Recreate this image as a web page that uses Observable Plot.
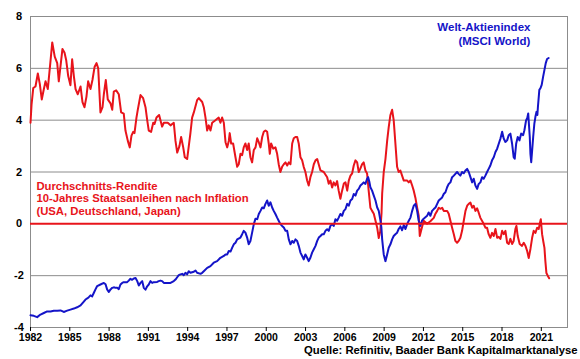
<!DOCTYPE html>
<html>
<head>
<meta charset="utf-8">
<script src="https://cdn.jsdelivr.net/npm/d3@7"></script>
<script src="https://cdn.jsdelivr.net/npm/@observablehq/plot@0.6"></script>
<style>
  html, body { margin: 0; padding: 0; background: #fff; }
  #chart { width: 580px; height: 359px; }
</style>
</head>
<body>
<div id="chart"></div>
<script>
// ---- Data ----
const xTicks = [1982, 1985, 1988, 1991, 1994, 1997, 2000, 2003, 2006, 2009, 2012, 2015, 2018, 2021];
const yTicks = [-4, -2, 0, 2, 4, 6, 8];
const gridValues = [-4, -2, 2, 4, 6, 8];

const redYears = [1982.00,1982.08,1982.21,1982.38,1982.56,1982.71,1982.86,1983.02,1983.15,1983.32,1983.53,1983.66,1983.85,1984.04,1984.16,1984.44,1984.60,1984.73,1984.88,1985.05,1985.18,1985.31,1985.44,1985.61,1985.82,1985.97,1986.12,1986.27,1986.40,1986.58,1986.73,1986.89,1987.04,1987.17,1987.34,1987.50,1987.60,1987.75,1987.90,1988.11,1988.24,1988.36,1988.54,1988.74,1988.92,1989.12,1989.25,1989.43,1989.58,1989.71,1989.84,1989.94,1990.09,1990.19,1990.40,1990.60,1990.78,1990.91,1991.03,1991.21,1991.37,1991.47,1991.62,1991.82,1992.05,1992.18,1992.48,1992.69,1992.94,1993.07,1993.20,1993.37,1993.50,1993.66,1993.78,1993.96,1994.21,1994.34,1994.47,1994.72,1994.85,1995.11,1995.23,1995.36,1995.49,1995.61,1995.74,1995.87,1996.12,1996.37,1996.50,1996.63,1996.76,1996.89,1997.02,1997.14,1997.21,1997.32,1997.47,1997.65,1997.78,1997.90,1998.03,1998.16,1998.28,1998.41,1998.54,1998.66,1998.79,1998.92,1999.05,1999.18,1999.31,1999.43,1999.56,1999.69,1999.81,1999.94,2000.07,2000.19,2000.27,2000.37,2000.53,2000.70,2000.83,2000.95,2001.08,2001.21,2001.34,2001.47,2001.60,2001.72,2001.85,2001.98,2002.10,2002.23,2002.36,2002.48,2002.61,2002.74,2002.86,2002.99,2003.12,2003.24,2003.37,2003.50,2003.63,2003.76,2003.89,2004.14,2004.39,2004.65,2004.77,2004.90,2005.03,2005.15,2005.28,2005.41,2005.53,2005.66,2005.79,2005.92,2006.05,2006.18,2006.30,2006.43,2006.56,2006.68,2006.81,2006.94,2007.06,2007.19,2007.32,2007.44,2007.57,2007.70,2007.82,2007.95,2008.08,2008.21,2008.34,2008.47,2008.59,2008.70,2008.80,2008.85,2008.97,2009.10,2009.23,2009.35,2009.48,2009.61,2009.73,2009.86,2009.99,2010.11,2010.24,2010.37,2010.50,2010.76,2010.88,2011.01,2011.14,2011.26,2011.39,2011.52,2011.64,2011.72,2011.82,2012.02,2012.28,2012.53,2012.79,2012.92,2013.05,2013.17,2013.30,2013.43,2013.55,2013.81,2013.93,2014.06,2014.19,2014.32,2014.44,2014.57,2014.69,2014.82,2014.95,2015.08,2015.21,2015.34,2015.46,2015.59,2015.72,2015.84,2015.97,2016.10,2016.22,2016.35,2016.60,2016.73,2016.86,2016.98,2017.11,2017.24,2017.37,2017.50,2017.63,2017.75,2017.88,2018.01,2018.13,2018.26,2018.39,2018.51,2018.64,2018.77,2018.89,2019.02,2019.10,2019.20,2019.35,2019.53,2019.66,2019.79,2019.92,2020.04,2020.17,2020.30,2020.42,2020.55,2020.68,2020.80,2020.88,2020.96,2021.06,2021.16,2021.24,2021.31,2021.39,2021.49,2021.60];
const redValues = [3.9,4.6,5.24,5.3,5.8,5.4,4.8,5.2,5.5,5.2,6.3,7.0,6.45,6.2,5.5,6.75,6.6,6.3,5.7,5.35,6.35,5.7,5.2,5.0,5.3,4.7,4.5,4.9,5.5,5.2,5.55,6.05,6.2,6.0,4.3,4.5,5.0,5.55,4.8,4.65,4.4,5.1,5.15,5.0,4.3,4.25,3.6,3.2,2.95,3.4,3.55,3.5,4.1,4.4,4.97,4.85,4.5,4.0,3.6,3.55,3.9,3.85,4.1,4.2,3.75,3.9,3.9,3.8,3.9,3.2,2.75,3.0,3.35,2.95,2.57,2.5,3.5,4.1,4.3,4.77,4.85,4.7,4.5,4.1,3.6,3.8,3.6,3.9,4.0,4.1,3.9,4.1,3.9,3.15,2.95,3.2,3.5,3.1,3.1,2.57,2.2,2.3,2.7,2.65,2.95,3.1,2.85,3.1,2.57,2.37,2.85,2.95,3.3,3.15,2.95,3.35,3.55,3.6,3.55,3.1,2.7,3.1,2.9,2.95,2.7,2.3,2.0,2.2,2.3,2.37,2.25,2.37,2.3,3.1,3.3,3.35,3.35,3.1,2.57,2.45,2.2,2.0,1.67,1.48,1.8,2.0,2.3,2.45,2.5,2.06,2.0,1.8,1.55,1.67,1.4,1.6,1.48,1.65,1.28,0.97,1.28,1.55,1.6,1.28,1.67,1.86,1.95,2.25,2.45,2.37,2.0,2.14,2.3,2.37,2.06,1.94,1.28,0.62,0.5,0.39,0.12,-0.15,-0.55,-0.3,0.4,1.17,2.0,2.5,3.2,3.73,4.2,4.4,4.0,3.1,2.2,2.0,2.06,1.86,1.67,1.67,1.6,1.67,1.48,1.28,1.0,0.62,0.31,-0.47,-0.27,0.12,0.0,0.1,0.23,0.39,0.5,0.62,0.58,0.62,0.5,0.5,0.39,0.12,-0.15,-0.4,-0.66,-0.73,-0.66,-0.54,-0.27,0.12,0.5,0.7,0.77,0.82,0.62,0.7,0.5,0.6,0.43,0.23,0.0,-0.15,-0.15,-0.4,-0.54,-0.35,-0.47,-0.2,-0.54,-0.5,-0.58,-0.27,-0.4,-0.27,-0.73,-0.78,-0.58,-0.78,-0.66,-0.2,-0.08,-0.47,-0.78,-0.85,-0.73,-0.85,-1.05,-1.32,-0.97,-0.54,-0.27,-0.35,-0.15,-0.2,0.0,0.18,-0.4,-0.7,-0.93,-1.44,-1.9,-2.0,-2.1];

const blueYears = [1982.00,1982.25,1982.51,1982.76,1983.02,1983.27,1983.53,1983.78,1984.04,1984.29,1984.54,1984.80,1985.05,1985.31,1985.56,1985.82,1986.07,1986.20,1986.33,1986.45,1986.58,1986.71,1986.83,1986.96,1987.09,1987.34,1987.60,1987.73,1987.85,1987.98,1988.11,1988.24,1988.36,1988.49,1988.62,1988.74,1988.87,1989.00,1989.12,1989.38,1989.50,1989.63,1989.76,1989.89,1990.02,1990.15,1990.27,1990.40,1990.53,1990.65,1990.78,1990.91,1991.03,1991.16,1991.29,1991.41,1991.67,1991.79,1991.92,1992.05,1992.18,1992.44,1992.69,1992.94,1993.07,1993.20,1993.32,1993.45,1993.58,1993.70,1993.83,1993.96,1994.08,1994.21,1994.47,1994.60,1994.72,1994.98,1995.11,1995.23,1995.49,1995.74,1995.99,1996.25,1996.50,1996.76,1996.89,1997.02,1997.14,1997.27,1997.40,1997.52,1997.65,1997.78,1998.03,1998.16,1998.28,1998.41,1998.54,1998.66,1998.79,1998.92,1999.05,1999.18,1999.31,1999.43,1999.56,1999.69,1999.81,1999.94,2000.07,2000.19,2000.32,2000.45,2000.57,2000.70,2000.83,2000.95,2001.08,2001.21,2001.34,2001.47,2001.60,2001.72,2001.85,2001.98,2002.10,2002.23,2002.36,2002.48,2002.61,2002.74,2002.86,2002.99,2003.12,2003.24,2003.37,2003.50,2003.63,2003.76,2003.89,2004.01,2004.14,2004.27,2004.39,2004.52,2004.65,2004.77,2004.90,2005.03,2005.15,2005.28,2005.41,2005.53,2005.66,2005.79,2005.92,2006.05,2006.18,2006.30,2006.43,2006.56,2006.68,2006.81,2006.94,2007.06,2007.19,2007.32,2007.44,2007.57,2007.70,2007.78,2007.88,2007.95,2008.08,2008.21,2008.34,2008.47,2008.59,2008.72,2008.79,2008.85,2008.97,2009.10,2009.23,2009.35,2009.48,2009.61,2009.73,2009.86,2009.99,2010.11,2010.24,2010.37,2010.50,2010.63,2010.76,2010.88,2011.01,2011.14,2011.26,2011.39,2011.52,2011.64,2011.76,2011.89,2012.02,2012.28,2012.40,2012.53,2012.66,2012.79,2012.92,2013.05,2013.17,2013.30,2013.43,2013.55,2013.68,2013.81,2013.93,2014.06,2014.19,2014.32,2014.44,2014.57,2014.69,2014.82,2014.95,2015.08,2015.21,2015.34,2015.46,2015.59,2015.72,2015.84,2015.97,2016.10,2016.22,2016.35,2016.48,2016.60,2016.73,2016.86,2016.98,2017.11,2017.24,2017.37,2017.50,2017.63,2017.75,2017.88,2018.01,2018.13,2018.26,2018.39,2018.51,2018.64,2018.77,2018.89,2018.97,2019.08,2019.20,2019.33,2019.46,2019.61,2019.71,2019.84,2019.92,2020.00,2020.12,2020.17,2020.23,2020.30,2020.38,2020.47,2020.55,2020.63,2020.70,2020.74,2020.85,2020.93,2021.03,2021.14,2021.24,2021.34,2021.44,2021.56];
const blueValues = [-3.53,-3.55,-3.6,-3.5,-3.44,-3.38,-3.38,-3.35,-3.35,-3.34,-3.4,-3.35,-3.31,-3.27,-3.22,-3.15,-3.0,-2.92,-2.88,-2.83,-2.76,-2.8,-2.67,-2.53,-2.4,-2.34,-2.28,-2.33,-2.53,-2.63,-2.53,-2.47,-2.45,-2.47,-2.47,-2.52,-2.34,-2.28,-2.25,-2.25,-2.19,-2.12,-2.16,-2.11,-2.09,-2.21,-2.38,-2.28,-2.21,-2.47,-2.54,-2.41,-2.34,-2.21,-2.28,-2.25,-2.24,-2.21,-2.19,-2.21,-2.28,-2.28,-2.28,-2.21,-2.15,-2.06,-1.98,-1.95,-1.93,-1.98,-1.89,-1.95,-1.83,-1.89,-1.85,-1.8,-1.89,-1.93,-1.89,-1.83,-1.7,-1.63,-1.5,-1.44,-1.31,-1.24,-1.18,-1.18,-1.05,-1.07,-0.92,-0.79,-0.73,-0.6,-0.53,-0.4,-0.27,-0.34,-0.53,-0.79,-0.66,-0.34,-0.01,0.2,0.18,0.38,0.5,0.63,0.6,0.77,0.9,0.7,0.83,0.63,0.5,0.38,0.24,0.12,-0.01,-0.08,-0.14,-0.27,-0.27,-0.6,-0.79,-0.66,-0.73,-0.6,-0.66,-0.85,-1.11,-1.24,-1.37,-1.18,-1.31,-1.44,-1.31,-1.11,-0.98,-0.85,-0.66,-0.53,-0.47,-0.4,-0.4,-0.27,-0.21,-0.27,-0.08,-0.01,-0.08,0.18,0.12,0.24,0.38,0.31,0.5,0.57,0.77,0.7,0.9,0.96,1.15,1.09,1.28,1.35,1.48,1.54,1.6,1.54,1.74,1.8,1.6,1.41,1.28,1.09,0.9,0.63,0.5,0.12,-0.14,-0.6,-1.18,-1.44,-1.18,-0.92,-0.79,-0.6,-0.47,-0.4,-0.34,-0.2,-0.1,-0.25,-0.05,-0.2,0.0,0.12,0.24,0.5,0.7,0.77,0.5,0.12,-0.08,0.12,0.2,0.31,0.44,0.31,0.5,0.57,0.63,0.77,0.9,0.96,1.02,1.15,1.22,1.41,1.54,1.6,1.8,1.86,1.93,2.0,1.93,1.86,2.0,1.95,2.06,2.12,2.0,1.8,1.6,1.74,1.48,1.35,1.54,1.6,1.8,1.74,1.86,2.0,2.12,2.25,2.45,2.57,2.77,2.9,3.09,3.29,3.55,3.29,3.16,3.22,3.42,3.48,3.09,2.57,2.51,3.09,3.35,3.22,3.48,3.42,3.61,4.0,4.07,4.26,3.35,2.7,2.38,2.83,3.35,3.87,4.13,4.32,4.2,4.5,5.17,5.23,5.36,5.68,5.94,6.2,6.36,6.4];

const redLabel = "Durchschnitts-Rendite\n10-Jahres Staatsanleihen nach Inflation\n(USA, Deutschland, Japan)";
const blueLabel = "Welt-Aktienindex\n(MSCI World)";
const sourceLabel = "Quelle: Refinitiv, Baader Bank Kapitalmarktanalyse";

// ---- Build tables ----
const red = redYears.map((y, i) => ({year: y, value: redValues[i]}));
const blue = blueYears.map((y, i) => ({year: y, value: blueValues[i]}));

const RED = "#e8141b";
const BLUE = "#1414c8";
const GRID = "#8c8c8c";
const FONT = "'Liberation Sans', Arial, Helvetica, sans-serif";

const chart = Plot.plot({
  width: 580,
  height: 359,
  marginLeft: 30,
  marginRight: 13,
  marginTop: 16,
  marginBottom: 32,
  style: {fontFamily: FONT, fontSize: "11px", fontWeight: "bold", color: "#000", background: "#fff"},
  x: {domain: [1982, 2023]},
  y: {domain: [-4, 8]},
  marks: [
    Plot.ruleY(gridValues, {stroke: GRID, strokeWidth: 1}),
    Plot.frame({stroke: GRID, strokeWidth: 1}),
    Plot.axisX({ticks: xTicks, tickFormat: d => String(d), tickSize: 4, tickPadding: 2, label: null, fontSize: 10.5, fontWeight: "bold"}),
    Plot.axisY({ticks: yTicks, tickFormat: d => String(d), tickSize: 0, tickPadding: 11.5, textAnchor: "middle", label: null, fontSize: 11, fontWeight: "bold"}),
    Plot.line(red, {x: "year", y: "value", stroke: RED, strokeWidth: 2}),
    Plot.line(blue, {x: "year", y: "value", stroke: BLUE, strokeWidth: 2}),
    Plot.ruleY([0], {stroke: RED, strokeWidth: 2}),
    Plot.text([redLabel], {x: 1982.45, y: 0.98, text: d => d, textAnchor: "start", fill: RED, fontSize: 11.3, fontWeight: "bold", lineHeight: 1.1}),
    Plot.text([blueLabel], {x: 2020.17, y: 7.34, text: d => d, textAnchor: "end", fill: BLUE, fontSize: 11.5, fontWeight: "bold", lineHeight: 1.2}),
    Plot.text([sourceLabel], {frameAnchor: "bottom-right", text: d => d, textAnchor: "end", dx: 10, dy: 26.5, fill: "#000", fontSize: 11.3, fontWeight: "bold"})
  ]
});

document.getElementById("chart").appendChild(chart);
</script>
</body>
</html>
